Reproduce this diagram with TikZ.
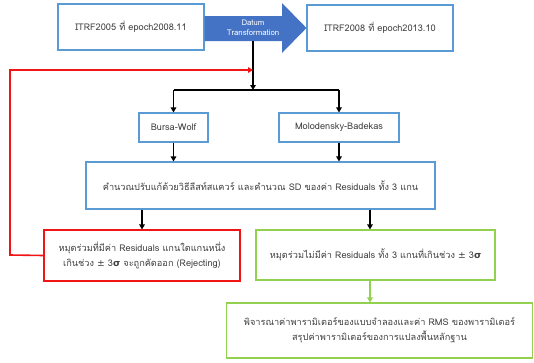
\documentclass[tikz,border=0pt]{standalone}
\usepackage{fontspec}
\setmainfont[Script=Thai]{Loma}
\newfontfamily\symfont{DejaVu Sans}
\usetikzlibrary{arrows.meta}
\definecolor{boxblue}{RGB}{91,155,213}
\definecolor{boxred}{RGB}{240,20,20}
\definecolor{boxgreen}{RGB}{146,208,80}
\definecolor{datumfill}{RGB}{68,114,196}
\newcommand{\pmsig}{{\symfont\textpm}\ 3{\symfont\bfseries σ}}
\tikzset{
  box/.style={draw=boxblue, line width=1.1pt, fill=white, text=black!75, align=center, inner sep=0pt, font=\fontsize{9.2}{15}\selectfont},
  redbox/.style={box, draw=boxred},
  greenbox/.style={box, draw=boxgreen},
  arr/.style={line width=1.4pt, -{Triangle[length=5pt,width=5.5pt]}},
}
\begin{document}
\begin{tikzpicture}[x=1pt,y=-1pt]
\useasboundingbox (0,0) rectangle (534,362);

\node[box, minimum width=146, minimum height=46] (itrfa) at (131,27) {ITRF2005 ที่ epoch2008.11};
\node[box, minimum width=146, minimum height=46] (itrfb) at (380,28) {ITRF2008 ที่ epoch2013.10};

% datum arrow
\fill[datumfill] (itrfa.east |- 0,16) -- (282,16) -- (282,3) -- (itrfb.west) -- (282,53) -- (282,41) -- (itrfa.east |- 0,41) -- cycle;
\node[text=white, align=center, font=\fontsize{7.8}{9.5}\selectfont] (datum) at (253,28) {Datum\\Transformation};
\coordinate (split) at (253,41);
\coordinate (merge) at (253,70);

\node[box, minimum width=69, minimum height=29] (bursa) at (173.5,127.5) {Bursa-Wolf};
\node[box, minimum width=120, minimum height=29] (molo) at (339,127.5) {Molodensky-Badekas};
\node[box, minimum width=349, minimum height=47] (calc) at (260.5,185.5) {คำนวณปรับแก้ด้วยวิธีลีสท์สแควร์ และคำนวณ SD ของค่า Residuals ทั้ง 3 แกน};
\node[redbox, minimum width=196, minimum height=51] (reject) at (142,255.5) {หมุดร่วมที่มีค่า Residuals แกนใดแกนหนึ่ง\\เกินช่วง \pmsig\ จะถูกคัดออก (Rejecting)};
\node[greenbox, minimum width=239, minimum height=50] (accept) at (375.5,255) {หมุดร่วมไม่มีค่า Residuals ทั้ง 3 แกนที่เกินช่วง \pmsig};
\node[greenbox, minimum width=306, minimum height=55] (result) at (379.5,330.5) {พิจารณาค่าพารามิเตอร์ของแบบจำลองและค่า RMS ของพารามิเตอร์\\สรุปค่าพารามิเตอร์ของการแปลงพื้นหลักฐาน};

\coordinate (bar) at (253,90);
\draw[arr] (split) -- (bar);
\draw[line width=1.4pt] (bursa.north |- bar) -- (molo.north |- bar);
\draw[arr] (bursa.north |- bar) -- (bursa.north);
\draw[arr] (molo.north |- bar) -- (molo.north);
\draw[arr] (bursa.south) -- (bursa.south |- calc.north);
\draw[arr] (molo.south) -- (molo.south |- calc.north);
\draw[arr] (calc.south -| reject.north) -- (reject.north);
\draw[arr] (calc.south -| 370,0) -- (accept.north -| 370,0);
\draw[arr, boxgreen] (accept.south -| 370,0) -- (result.north -| 370,0);
\draw[arr, boxred, line width=1.6pt] (reject.west) -- (10,255) -- (10,70) -- (merge);
\end{tikzpicture}
\end{document}
